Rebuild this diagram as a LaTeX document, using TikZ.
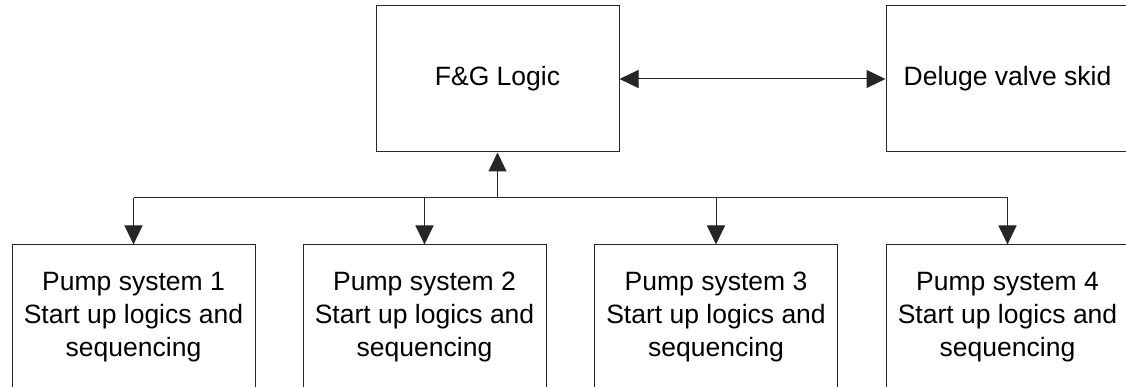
\documentclass[tikz,border=0pt]{standalone}
\usepackage{fontspec}
\setmainfont{Liberation Sans}
\usetikzlibrary{arrows.meta}

\begin{document}
\begin{tikzpicture}[x=1pt,y=-1pt,
  box/.style={draw=black!85, line width=1pt, rectangle, inner sep=0pt,
    minimum width=243pt, minimum height=146pt, align=center,
    font=\fontsize{26.5}{33}\selectfont},
  link/.style={draw=black!85, line width=1pt},
  arr/.style={link, -{Triangle[length=19pt,width=18pt]}},
  dblarr/.style={link, {Triangle[length=19pt,width=18pt]}-{Triangle[length=19pt,width=18pt]}}]
  \useasboundingbox (0,0) rectangle (1126,387);
  \clip (0,0) rectangle (1126,387);

  % upper row
  \node[box] (fg) at (497.5,79) {F\&G Logic};
  \node[box] (dv) at (1007.5,79) {Deluge valve skid};

  % pump systems
  \node[box, minimum height=144pt] (p1) at (133.5,317) {Pump system 1\\Start up logics and\\sequencing};
  \node[box, minimum height=144pt] (p2) at (424.5,317) {Pump system 2\\Start up logics and\\sequencing};
  \node[box, minimum height=144pt] (p3) at (716,317) {Pump system 3\\Start up logics and\\sequencing};
  \node[box, minimum height=144pt] (p4) at (1007.5,317) {Pump system 4\\Start up logics and\\sequencing};

  % connections
  \draw[dblarr] (fg.east) -- (dv.west);
  \coordinate (bus) at (497.5,198);
  \draw[arr] (bus) -- (fg.south);
  \draw[link] (p1.north |- bus) -- (p4.north |- bus);
  \foreach \p in {p1,p2,p3,p4}
    \draw[arr] (\p.north |- bus) -- (\p.north);
\end{tikzpicture}
\end{document}
